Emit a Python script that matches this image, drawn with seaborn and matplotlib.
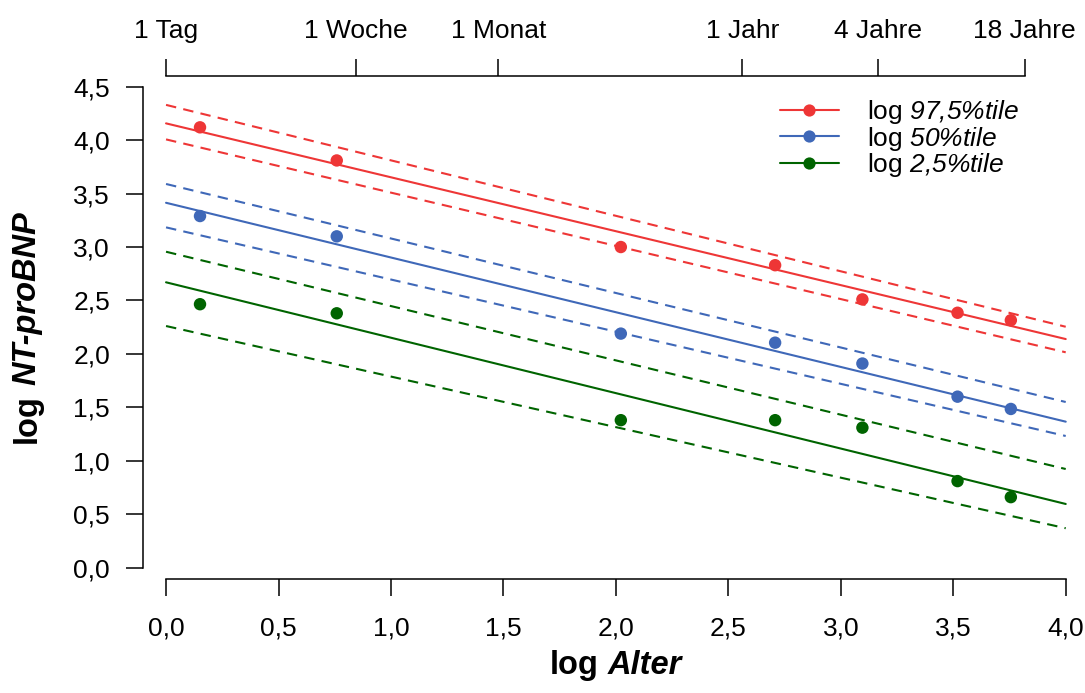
import numpy as np
import pandas as pd
import matplotlib
matplotlib.use("Agg")
import matplotlib.pyplot as plt
from matplotlib.lines import Line2D
import seaborn as sns

# ---------------- data ----------------
age_x = [0.151, 0.759, 2.022, 2.708, 3.096, 3.519, 3.756]
p975 = [4.12, 3.81, 3.00, 2.83, 2.51, 2.385, 2.315]
p50 = [3.29, 3.10, 2.19, 2.105, 1.91, 1.60, 1.485]
p25 = [2.465, 2.38, 1.38, 1.38, 1.31, 0.81, 0.66]

line_x = [0.0, 4.0]
fit975 = [4.157, 2.139]
up975 = [4.33, 2.254]
lo975 = [4.007, 2.015]
fit50 = [3.414, 1.366]
up50 = [3.59, 1.55]
lo50 = [3.184, 1.232]
fit25 = [2.67, 0.596]
up25 = [2.956, 0.923]
lo25 = [2.261, 0.369]

series = ["log 97,5%tile", "log 50%tile", "log 2,5%tile"]
legend_labels = [r"log $97{,}5\%tile$", r"log $50\%tile$", r"log $2{,}5\%tile$"]
colors = ["#EE3636", "#3F68B8", "#006400"]

xticks = [0.0, 0.5, 1.0, 1.5, 2.0, 2.5, 3.0, 3.5, 4.0]
xtick_labels = ["0,0", "0,5", "1,0", "1,5", "2,0", "2,5", "3,0", "3,5", "4,0"]
yticks = [0.0, 0.5, 1.0, 1.5, 2.0, 2.5, 3.0, 3.5, 4.0, 4.5]
ytick_labels = ["0,0", "0,5", "1,0", "1,5", "2,0", "2,5", "3,0", "3,5", "4,0", "4,5"]
top_days = [1, 7, 30, 365, 1461, 6574.5]
top_labels = ["1 Tag", "1 Woche", "1 Monat", "1 Jahr", "4 Jahre", "18 Jahre"]

# ---------------- tables ----------------
pts = pd.DataFrame({
    "x": age_x * 3,
    "y": p975 + p50 + p25,
    "series": [series[0]] * 7 + [series[1]] * 7 + [series[2]] * 7,
})
rows = []
for s, (f, u, l) in zip(series, [(fit975, up975, lo975), (fit50, up50, lo50), (fit25, up25, lo25)]):
    for kind, vals in [("fit", f), ("upper", u), ("lower", l)]:
        for xx, yy in zip(line_x, vals):
            rows.append({"x": xx, "y": yy, "series": s, "kind": kind})
lines = pd.DataFrame(rows)

# ---------------- style ----------------
sns.set_theme(style="ticks")
plt.rcParams["font.family"] = ["Liberation Sans", "DejaVu Sans"]
plt.rcParams["mathtext.fontset"] = "custom"
plt.rcParams["mathtext.rm"] = "Liberation Sans:italic"
plt.rcParams["mathtext.it"] = "Liberation Sans:italic"
plt.rcParams["mathtext.bf"] = "Liberation Sans:bold:italic"
for k in ["text.color", "axes.labelcolor", "xtick.color", "ytick.color",
          "axes.edgecolor", "xtick.labelcolor", "ytick.labelcolor"]:
    plt.rcParams[k] = "black"

FS = 19
palette = dict(zip(series, colors))

fig = plt.figure(figsize=(10.85, 6.93), dpi=100)
ax = fig.add_axes([0.1321, 0.1645, 0.8605, 0.7258])

sns.lineplot(data=lines, x="x", y="y", hue="series", style="kind",
             palette=palette, hue_order=series,
             style_order=["fit", "upper", "lower"],
             dashes={"fit": "", "upper": (5, 3.5), "lower": (5, 3.5)},
             linewidth=1.5, legend=False, ax=ax, estimator=None, sort=True)
sns.scatterplot(data=pts, x="x", y="y", hue="series", palette=palette,
                hue_order=series, s=80, linewidth=0, legend=False, ax=ax, zorder=3)

ax.set_xlim(-0.101, 4.05)
ax.set_ylim(-0.106, 4.60)
ax.set_xlabel("")
ax.set_ylabel("")
ax.set_xticks(xticks)
ax.set_xticklabels(xtick_labels)
ax.set_yticks(yticks)
ax.set_yticklabels(ytick_labels)
for sp in ["top", "right"]:
    ax.spines[sp].set_visible(False)
ax.spines["left"].set_bounds(0, 4.5)
ax.spines["bottom"].set_bounds(0, 4.0)
for sp in ["left", "bottom"]:
    ax.spines[sp].set_linewidth(1.1)
    ax.spines[sp].set_color("black")
ax.tick_params(axis="x", length=12, width=1.1, pad=15, labelsize=FS, colors="black")
ax.tick_params(axis="y", length=12, width=1.1, pad=12, labelsize=FS, colors="black")

ax2 = ax.twiny()
ax2.set_xlim(ax.get_xlim())
ax2.set_xticks(np.log10(top_days))
ax2.set_xticklabels(top_labels)
for sp in ["left", "right", "bottom"]:
    ax2.spines[sp].set_visible(False)
ax2.spines["top"].set_bounds(0, np.log10(top_days[-1]))
ax2.spines["top"].set_linewidth(1.1)
ax2.spines["top"].set_color("black")
ax2.tick_params(axis="x", length=12, width=1.1, pad=12, labelsize=FS, colors="black")

# legend
handles = [Line2D([0], [0], color=c, lw=1.5, marker="o", markersize=8.8,
                  markeredgewidth=0) for c in colors]
leg = ax.legend(handles, legend_labels, loc="upper left",
                bbox_to_anchor=(780 / 1085, 1 - 98 / 693), bbox_transform=fig.transFigure,
                frameon=False, fontsize=FS, borderpad=0, borderaxespad=0,
                handlelength=2.23, handletextpad=1.05, labelspacing=-0.05)
for t in leg.get_texts():
    t.set_color("black")

# axis titles composed of bold + bold italic parts
LS = 23.5
tx1 = fig.text(0.5, 0.0173, "log", fontsize=LS, fontweight="bold",
               ha="left", va="bottom")
tx2 = fig.text(0, 0, "Alter", fontsize=LS, fontweight="bold", fontstyle="italic")
ty1 = fig.text(27 / 1085, 0.35, "log", fontsize=LS, fontweight="bold",
               rotation=90, ha="center", va="bottom")
ty2 = fig.text(0, 0, "NT-proBNP", fontsize=LS, fontweight="bold", fontstyle="italic",
               rotation=90)

fig.canvas.draw()
r = fig.canvas.get_renderer()
gap = LS * 0.278 * 100 / 72  # space width in px

b1 = tx1.get_window_extent(r)
b2 = tx2.get_window_extent(r)
total_w = b1.width + gap + b2.width
cx = ax.transData.transform((2.0, 0))[0]
left = cx - total_w / 2
tx1.set_position((left / 1085, 0.0173))
tx2.set_position(((left + b1.width + gap) / 1085, 0.0173))
tx2.set_ha("left")
tx2.set_va("bottom")

c1 = ty1.get_window_extent(r)
c2 = ty2.get_window_extent(r)
total_h = c1.height + gap + c2.height
cy = ax.transData.transform((0, 2.25))[1]
bottom = cy - total_h / 2
ty1.set_position((27 / 1085, bottom / 693))
ty2.set_position((27 / 1085, (bottom + c1.height + gap) / 693))
ty2.set_ha("center")
ty2.set_va("bottom")

fig.savefig("out.png", dpi=100)
